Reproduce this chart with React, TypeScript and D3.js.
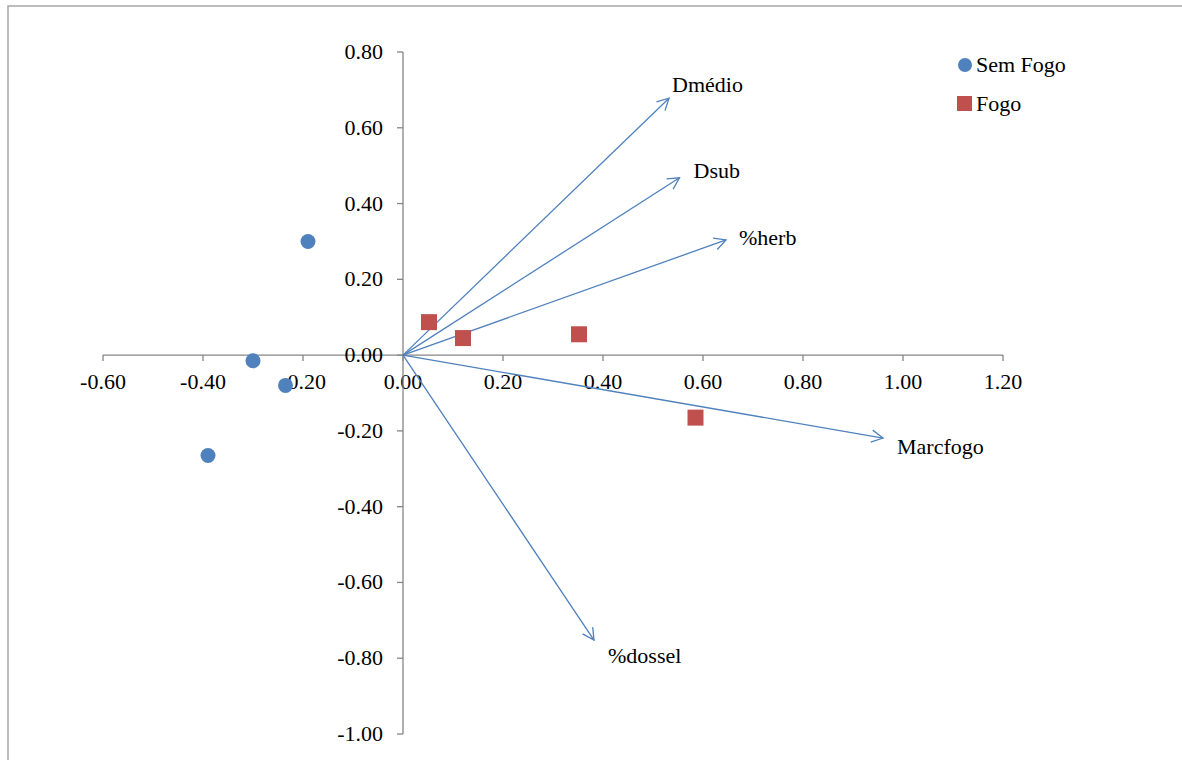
import React from "react";
import * as d3 from "d3";

// Site scores
const semFogoX = [-0.19, -0.3, -0.235, -0.39];
const semFogoY = [0.3, -0.015, -0.08, -0.265];
const fogoX = [0.052, 0.12, 0.352, 0.585];
const fogoY = [0.087, 0.045, 0.055, -0.165];

// Environmental vectors
const vectorNames = ["Dmédio", "Dsub", "%herb", "Marcfogo", "%dossel"];
const vectorX = [0.532, 0.553, 0.646, 0.96, 0.382];
const vectorY = [0.678, 0.468, 0.304, -0.219, -0.752];

// Axis ticks
const xTicks = [-0.6, -0.4, -0.2, 0, 0.2, 0.4, 0.6, 0.8, 1.0, 1.2];
const yTicks = [0.8, 0.6, 0.4, 0.2, 0, -0.2, -0.4, -0.6, -0.8, -1.0];

const legendNames = ["Sem Fogo", "Fogo"];

const W = 1182;
const H = 760;
const FONT = "'Liberation Serif', 'Times New Roman', serif";
const BLUE = "#4F81BD";
const RED = "#C0504D";
const AXIS = "#868686";
const FS = 22;

export default function App() {
  const x = d3.scaleLinear().domain([-0.6, 1.2]).range([103, 1003]);
  const y = d3.scaleLinear().domain([-1.0, 0.8]).range([734, 52]);
  const fmt = (v: number) => d3.format(".2f")(v).replace("\u2212", "-");
  const x0 = x(0);
  const y0 = y(0);

  // label offsets relative to the vector tip
  const labelDx = [3, 14, 13, 14, 14];
  const labelDy = [-6, 0, 5, 16, 23];

  const arrowHead = (tx: number, ty: number) => {
    const ang = Math.atan2(ty - y0, tx - x0);
    const len = 13;
    const spread = (28 * Math.PI) / 180;
    const p1 = [tx - len * Math.cos(ang - spread), ty - len * Math.sin(ang - spread)];
    const p2 = [tx - len * Math.cos(ang + spread), ty - len * Math.sin(ang + spread)];
    return `M${p1[0]},${p1[1]}L${tx},${ty}L${p2[0]},${p2[1]}`;
  };

  return (
    <svg
      width={W}
      height={H}
      style={{ position: "absolute", left: 0, top: 0, background: "#fff" }}
      fontFamily={FONT}
    >
      <rect x={8} y={6} width={W + 10} height={H + 10} fill="#fff" stroke="#A6A6A6" strokeWidth={1.5} />

      {/* x axis */}
      <line x1={x(-0.6)} x2={x(1.2)} y1={y0} y2={y0} stroke={AXIS} strokeWidth={1.3} />
      {xTicks.map((t) => (
        <g key={"xt" + t}>
          <line x1={x(t)} x2={x(t)} y1={y0} y2={y0 + 6} stroke={AXIS} strokeWidth={1.3} />
          <text x={x(t)} y={y0 + 34} textAnchor="middle" fontSize={FS} fill="#000">
            {fmt(t)}
          </text>
        </g>
      ))}

      {/* y axis */}
      <line x1={x0} x2={x0} y1={y(0.8)} y2={y(-1.0)} stroke={AXIS} strokeWidth={1.3} />
      {yTicks.map((t) => (
        <g key={"yt" + t}>
          <line x1={x0 - 6} x2={x0} y1={y(t)} y2={y(t)} stroke={AXIS} strokeWidth={1.3} />
          <text x={x0 - 20} y={y(t) + 7} textAnchor="end" fontSize={FS} fill="#000">
            {fmt(t)}
          </text>
        </g>
      ))}

      {/* vectors */}
      {vectorNames.map((name, i) => {
        const tx = x(vectorX[i]);
        const ty = y(vectorY[i]);
        return (
          <g key={name}>
            <line x1={x0} y1={y0} x2={tx} y2={ty} stroke={BLUE} strokeWidth={1.3} />
            <path d={arrowHead(tx, ty)} fill="none" stroke={BLUE} strokeWidth={1.3} />
            <text x={tx + labelDx[i]} y={ty + labelDy[i]} fontSize={FS} fill="#000">
              {name}
            </text>
          </g>
        );
      })}

      {/* Sem Fogo points */}
      {semFogoX.map((v, i) => (
        <circle key={"s" + i} cx={x(v)} cy={y(semFogoY[i])} r={7.5} fill={BLUE} />
      ))}

      {/* Fogo points */}
      {fogoX.map((v, i) => (
        <rect key={"f" + i} x={x(v) - 8} y={y(fogoY[i]) - 8} width={16} height={16} fill={RED} />
      ))}

      {/* legend */}
      <circle cx={965} cy={65} r={7} fill={BLUE} />
      <text x={976} y={72} fontSize={FS} fill="#000">{legendNames[0]}</text>
      <rect x={957} y={96} width={15} height={15} fill={RED} />
      <text x={976} y={111} fontSize={FS} fill="#000">{legendNames[1]}</text>
    </svg>
  );
}
